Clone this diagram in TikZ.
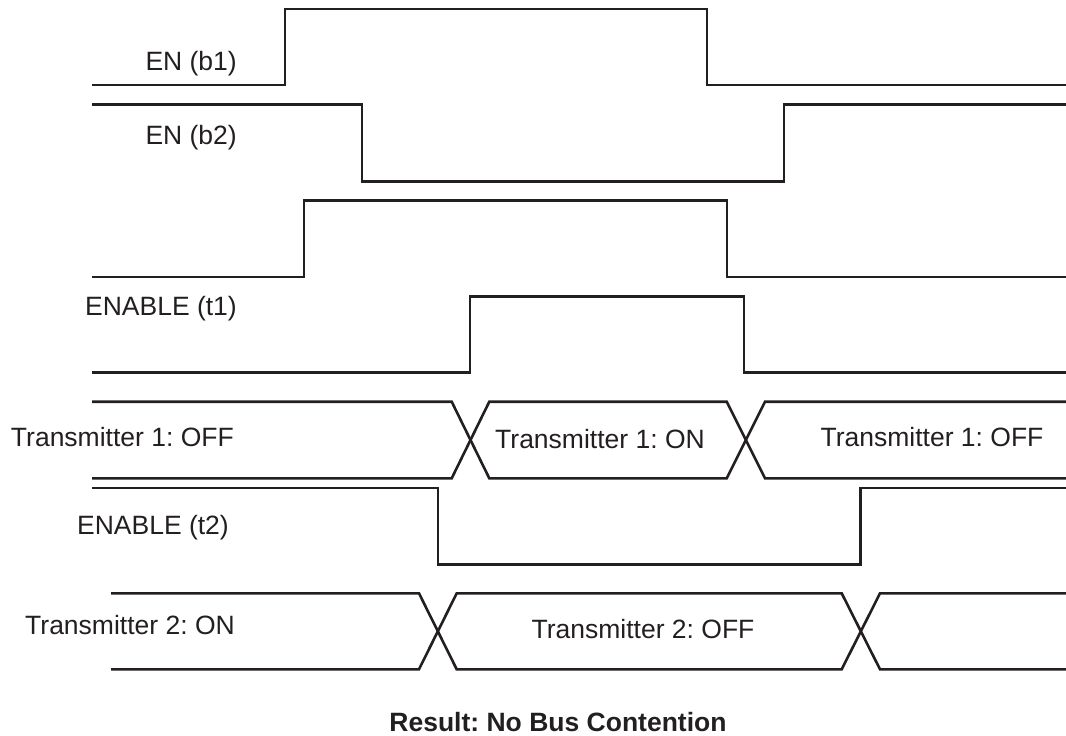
\documentclass[tikz,border=0pt]{standalone}
\usepackage{fontspec}
\setmainfont{Liberation Sans}
\usepackage{tikz}
\definecolor{InkBlack}{HTML}{231F20}
\frenchspacing

\begin{document}
\begin{tikzpicture}[
      x=1pt, y=-1pt,
      sig/.style={draw=InkBlack, line width=2.6pt, line join=miter},
      lbl/.style={text=InkBlack, font=\fontsize{26.5}{30}\selectfont, inner sep=0pt},
      sidelbl/.style={lbl, anchor=base east},
      buslbl/.style={lbl, anchor=base}
  ]
      \useasboundingbox (0,0) rectangle (1066,736);

      % Bus enable signals
      \draw[sig] (92,85) -- (285,85) -- (285,9) -- (707,9) -- (707,85) -- (1066,85);
      \node[sidelbl] (enb1) at (237,70) {EN (b1)};
      \draw[sig] (92,104.3) -- (362,104.3) -- (362,181.7) -- (784,181.7) -- (784,104.3) -- (1066,104.3);
      \node[sidelbl] (enb2) at (237,144.3) {EN (b2)};
      \draw[sig] (92,277) -- (304,277) -- (304,200.5) -- (727,200.5) -- (727,277) -- (1066,277);

      % Transmitter 1
      \draw[sig] (92,372.7) -- (470,372.7) -- (470,296.7) -- (744,296.7) -- (744,372.7) -- (1066,372.7);
      \node[sidelbl] (ent1) at (237,315) {ENABLE (t1)};
      \draw[sig] (92,401.7) -- (451.7,401.7) -- (489.3,478.3) -- (726.7,478.3) -- (765,401.7) -- (1066,401.7);
      \draw[sig] (92,478.3) -- (451.7,478.3) -- (489.3,401.7) -- (726.7,401.7) -- (765,478.3) -- (1066,478.3);
      \node[sidelbl] (tx1a) at (234,446) {Transmitter 1: OFF};
      \node[buslbl] (tx1b) at (600,448.3) {Transmitter 1: ON};
      \node[buslbl] (tx1c) at (932,446.7) {Transmitter 1: OFF};

      % Transmitter 2
      \draw[sig] (92,488) -- (438,488) -- (438,564.3) -- (860.7,564.3) -- (860.7,488) -- (1066,488);
      \node[sidelbl] (ent2) at (229,534) {ENABLE (t2)};
      \draw[sig] (111,593.3) -- (419,593.3) -- (456.7,669.3) -- (841.7,669.3) -- (880,593.3) -- (1066,593.3);
      \draw[sig] (111,669.3) -- (419,669.3) -- (456.7,593.3) -- (841.7,593.3) -- (880,669.3) -- (1066,669.3);
      \node[sidelbl] (tx2a) at (235,634) {Transmitter 2: ON};
      \node[buslbl] (tx2b) at (643,638.3) {Transmitter 2: OFF};

      % Result
      \node[buslbl, font=\fontsize{26.5}{30}\selectfont\bfseries] (res) at (558,731) {Result: No Bus Contention};
  \end{tikzpicture}
\end{document}
